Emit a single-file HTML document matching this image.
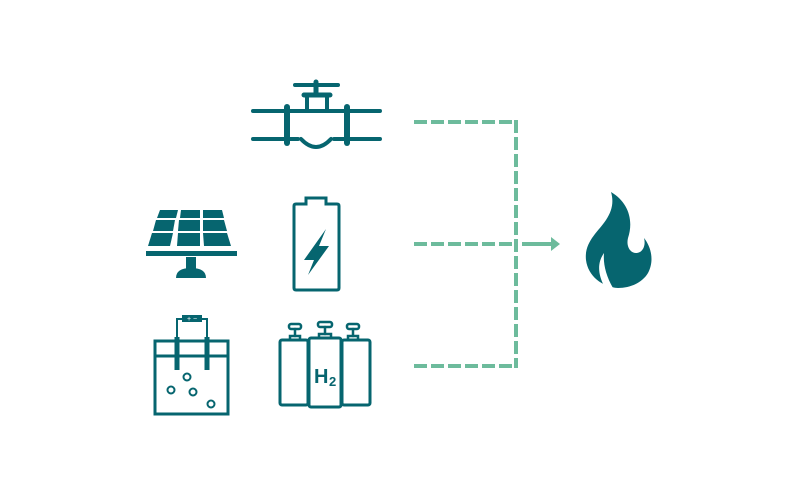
<!DOCTYPE html>
<html><head><meta charset="utf-8"><style>
html,body{margin:0;padding:0;background:#fff;width:800px;height:500px;overflow:hidden}
</style></head><body>
<svg width="800" height="500" viewBox="0 0 800 500" xmlns="http://www.w3.org/2000/svg">
<g fill="none" stroke="#06656f" stroke-linecap="round">
<!-- valve -->
<line x1="253" y1="111" x2="380" y2="111" stroke-width="4"/>
<line x1="253" y1="139" x2="298" y2="139" stroke-width="4"/>
<line x1="334" y1="139" x2="380" y2="139" stroke-width="4"/>
<line x1="287" y1="107" x2="287" y2="143" stroke-width="6"/>
<line x1="347" y1="107" x2="347" y2="143" stroke-width="6"/>
<path d="M289 111 H307 V95 H327 V111 H345" stroke-width="4"/>
<path d="M301 139 Q316 155 331 139" stroke-width="4"/>
<line x1="304" y1="95" x2="330" y2="95" stroke-width="5"/>
<line x1="295" y1="85" x2="338" y2="85" stroke-width="4"/>
<line x1="316" y1="82" x2="316" y2="95" stroke-width="5"/>
<!-- battery -->
<path d="M296 204 H306 V198 H326 V204 H337 Q339 204 339 206 V288 Q339 290 337 290 H296 Q294 290 294 288 V206 Q294 204 296 204 Z" stroke-width="3"/>
<!-- electrolyzer -->
<rect x="155" y="341" width="73" height="73" stroke-width="3" stroke-linecap="butt"/>
<line x1="155" y1="356" x2="228" y2="356" stroke-width="3"/>
<path d="M177 340 V319 H207 V340" stroke-width="2"/>
<line x1="177" y1="337" x2="177" y2="370" stroke-width="5" stroke-linecap="butt"/>
<line x1="207" y1="337" x2="207" y2="370" stroke-width="5" stroke-linecap="butt"/>
<circle cx="187" cy="377" r="3.5" stroke-width="2"/>
<circle cx="171" cy="390" r="3.5" stroke-width="2"/>
<circle cx="193" cy="392" r="3.5" stroke-width="2"/>
<circle cx="211" cy="404" r="3.5" stroke-width="2"/>
<!-- cylinders -->
<rect x="280" y="340" width="28" height="65" rx="2" stroke-width="3"/>
<rect x="342" y="340" width="28" height="65" rx="2" stroke-width="3"/>
<rect x="309" y="338" width="32" height="69" rx="2" fill="#fff" stroke-width="3"/>
<g stroke-width="2.5">
<rect x="289" y="324" width="12" height="5" rx="2"/><line x1="295" y1="329" x2="295" y2="336"/><rect x="290" y="336" width="10" height="4"/>
<rect x="318" y="322" width="14" height="5" rx="2"/><line x1="325" y1="327" x2="325" y2="334"/><rect x="319" y="334" width="12" height="4"/>
<rect x="347" y="324" width="12" height="5" rx="2"/><line x1="353" y1="329" x2="353" y2="336"/><rect x="348" y="336" width="10" height="4"/>
</g>
</g>
<rect x="182" y="315" width="20" height="7" fill="#06656f"/>
<text x="192" y="321" font-family="Liberation Sans, sans-serif" font-size="7" fill="#fff" text-anchor="middle">+ −</text>
<text x="314" y="383" font-family="Liberation Sans, sans-serif" font-weight="bold" font-size="20" fill="#06656f">H</text>
<text x="329" y="386" font-family="Liberation Sans, sans-serif" font-weight="bold" font-size="13" fill="#06656f">2</text>
<!-- bolt -->
<path d="M326 229 L304 260 L314 260 L308 275 L329 246 L319 246 Z" fill="#06656f"/>
<!-- solar panel -->
<g fill="#06656f">
<polygon points="160,210 178,210 176,218 157,218"/>
<polygon points="181,210 200,210 200,218 180,218"/>
<polygon points="203,210 222,210 224,218 203,218"/>
<polygon points="156,220 175,220 173,231 153,231"/>
<polygon points="179,220 200,220 200,231 178,231"/>
<polygon points="203,220 224,220 227,231 203,231"/>
<polygon points="152,233 173,233 170,246 148,246"/>
<polygon points="178,233 200,233 200,246 177,246"/>
<polygon points="203,233 227,233 231,246 204,246"/>
<rect x="146" y="251" width="91" height="5"/>
<rect x="186" y="257" width="10" height="12"/>
<path d="M176 278 Q176 268 191 268 Q206 268 206 278 Z"/>
<!-- flame -->
<path d="M611 192 C628 202 634 220 628 238 C626 246 630 253 636 253 C643 253 646 245 644 238 C652 248 654 262 648 273 C642 283 630 288 618 288 C602 287 588 276 586 260 C584 242 598 232 606 220 C612 211 614 202 611 192 Z" fill="#06656f"/>
<path d="M604 286 C598 274 597 263 604 253 C603 264 606 276 613 288 Z" fill="#fff"/>
</g>
<!-- connectors -->
<g stroke="#6dbb9c" stroke-width="4" fill="none" stroke-dasharray="13 4">
<line x1="414" y1="122" x2="512" y2="122"/>
<line x1="414" y1="244" x2="512" y2="244"/>
<line x1="414" y1="366" x2="512" y2="366"/>
<line x1="516" y1="120" x2="516" y2="368"/>
</g>
<line x1="522" y1="244" x2="552" y2="244" stroke="#6dbb9c" stroke-width="4"/>
<polygon points="551,237 560,244 551,251" fill="#6dbb9c"/>
</svg>
</body></html>
